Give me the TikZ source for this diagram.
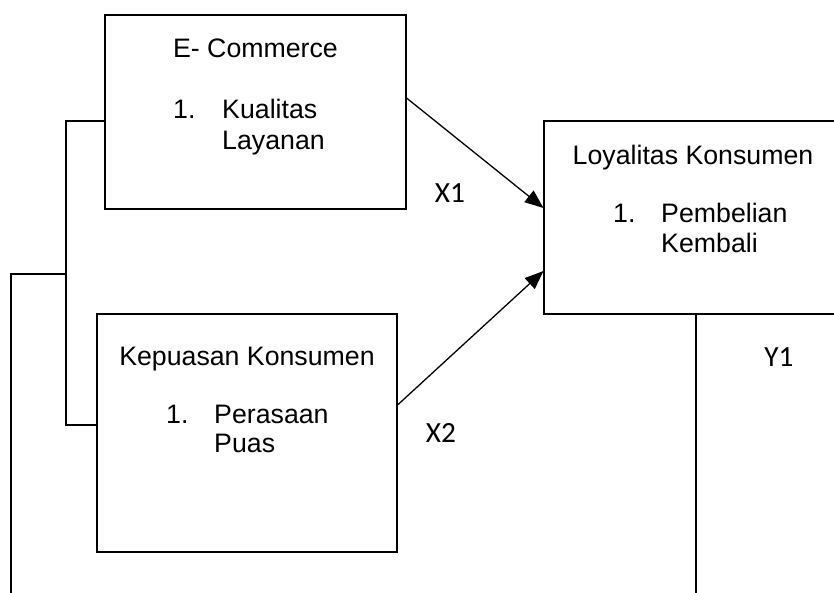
\documentclass[tikz,border=0pt]{standalone}
\usepackage{fontspec}
\setmainfont{Liberation Sans}
\newfontfamily\lbl{Carlito}
\usetikzlibrary{arrows.meta,calc}

\tikzset{
  kotak/.style={draw,line width=0.9pt,inner sep=0pt},
  judul/.style={anchor=base,inner sep=0pt,font=\fontsize{22.8}{26}\selectfont},
  butir/.style={anchor=base west,inner sep=0pt,font=\fontsize{22.8}{26}\selectfont},
  kode/.style={inner sep=0pt,font=\lbl\fontsize{25}{29}\selectfont},
  panah/.style={line width=1.1pt,-{Triangle[length=0.56cm,width=0.44cm]}},
  garis/.style={line width=1.1pt}
}

\begin{document}
\begin{tikzpicture}[x=0.03cm,y=-0.03cm]
\useasboundingbox (0,0) rectangle (834,593);
\clip (0,0) rectangle (834,593);
\node[kotak,minimum width=9.03cm,minimum height=5.82cm] (ecom) at (255.5,112) {};
\node[kotak,minimum width=8.94cm,minimum height=5.79cm] (loyal) at (693,217.5) {};
\node[kotak,minimum width=9cm,minimum height=7.14cm] (kep) at (247,433) {};
\node[judul] (ecomJ) at (255.5,58) {E- Commerce};
\node[butir] (ecomN) at (173,119) {1.};
\node[butir] (ecomA) at (222,119) {Kualitas};
\node[butir] (ecomB) at (222,150) {Layanan};
\node[judul] (loyalJ) at (693,165) {Loyalitas Konsumen};
\node[butir] (loyalN) at (613,222) {1.};
\node[butir] (loyalA) at (661,222) {Pembelian};
\node[butir] (loyalB) at (661,253) {Kembali};
\node[judul] (kepJ) at (247,365) {Kepuasan Konsumen};
\node[butir] (kepN) at (166,423) {1.};
\node[butir] (kepA) at (214,423) {Perasaan};
\node[butir] (kepB) at (214,452) {Puas};
\node[kode] (x1) at (450,193) {X1};
\node[kode] (x2) at (441,433) {X2};
\node[kode] (y1) at (779,357) {Y1};
\draw[panah] ($(ecom.east)+(0,-14)$) -- ($(loyal.west)+(0,-9.5)$);
\draw[panah] ($(kep.east)+(0,-28)$) -- ($(loyal.west)+(0,53.5)$);
\coordinate (cabang) at (66,274);
\coordinate (ujung) at (11,593);
\coordinate (bawah) at (696,593);
\draw[garis] ($(ecom.west)+(0,9)$) -| (cabang) |- ($(kep.west)+(0,-8)$);
\draw[garis] (cabang) -- (cabang -| ujung) -- (ujung);
\draw[garis] (loyal.south -| bawah) -- (bawah);
\end{tikzpicture}
\end{document}
